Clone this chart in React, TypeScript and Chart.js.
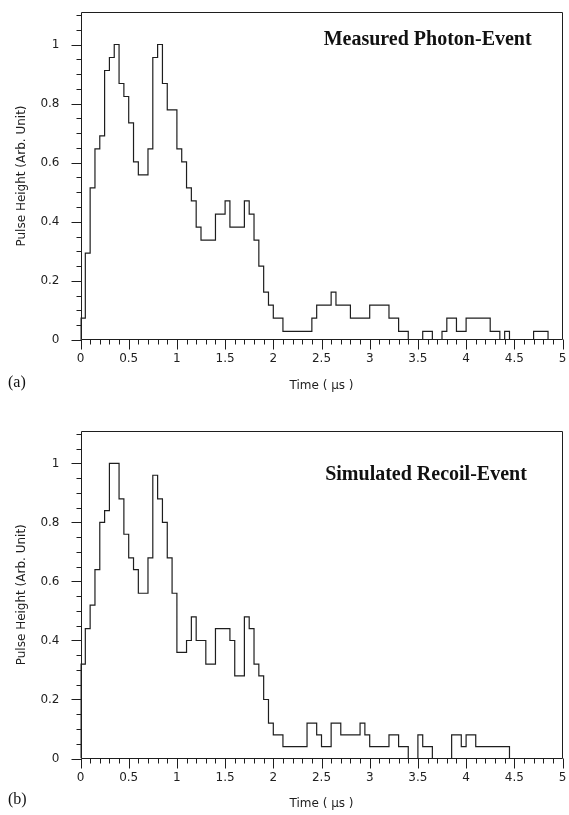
import React, { useEffect, useRef } from "react";
import { Chart, registerables } from "chart.js";

Chart.register(...registerables);

// ---- data ----
const BIN_WIDTH = 0.05; // µs per histogram bin
const TIME_MAX = 5;
const Y_MAX = 1.11;

const X_TICK_LABELS = ["0", "0.5", "1", "1.5", "2", "2.5", "3", "3.5", "4", "4.5", "5"];
const Y_TICK_LABELS = ["0", "0.2", "0.4", "0.6", "0.8", "1"];
const X_MAJOR = 0.5;
const X_MINOR = 0.1;
const Y_MAJOR = 0.2;
const Y_MINOR = 0.05;

const measuredPhoton = [
  0.074, 0.294, 0.515, 0.647, 0.691, 0.912, 0.956, 1.0, 0.868, 0.824,
  0.735, 0.603, 0.559, 0.559, 0.647, 0.956, 1.0, 0.868, 0.779, 0.779,
  0.647, 0.603, 0.515, 0.471, 0.382, 0.338, 0.338, 0.338, 0.426, 0.426,
  0.471, 0.382, 0.382, 0.382, 0.471, 0.426, 0.338, 0.25, 0.162, 0.118,
  0.074, 0.074, 0.029, 0.029, 0.029, 0.029, 0.029, 0.029, 0.074, 0.118,
  0.118, 0.118, 0.162, 0.118, 0.118, 0.118, 0.074, 0.074, 0.074, 0.074,
  0.118, 0.118, 0.118, 0.118, 0.074, 0.074, 0.029, 0.029, 0, 0,
  0, 0.029, 0.029, 0, 0, 0.029, 0.074, 0.074, 0.029, 0.029,
  0.074, 0.074, 0.074, 0.074, 0.074, 0.029, 0.029, 0, 0.029, 0,
  0, 0, 0, 0, 0.029, 0.029, 0.029, 0, 0, 0,
];

const simulatedRecoil = [
  0.32, 0.44, 0.52, 0.64, 0.8, 0.84, 1.0, 1.0, 0.88, 0.76,
  0.68, 0.64, 0.56, 0.56, 0.68, 0.96, 0.88, 0.8, 0.68, 0.56,
  0.36, 0.36, 0.4, 0.48, 0.4, 0.4, 0.32, 0.32, 0.44, 0.44,
  0.44, 0.4, 0.28, 0.28, 0.48, 0.44, 0.32, 0.28, 0.2, 0.12,
  0.08, 0.08, 0.04, 0.04, 0.04, 0.04, 0.04, 0.12, 0.12, 0.08,
  0.04, 0.04, 0.12, 0.12, 0.08, 0.08, 0.08, 0.08, 0.12, 0.08,
  0.04, 0.04, 0.04, 0.04, 0.08, 0.08, 0.04, 0.04, 0, 0,
  0.08, 0.04, 0.04, 0, 0, 0, 0, 0.08, 0.08, 0.04,
  0.08, 0.08, 0.04, 0.04, 0.04, 0.04, 0.04, 0.04, 0.04, 0,
  0, 0, 0, 0, 0, 0, 0, 0, 0, 0,
];

// ---- layout ----
const W = 569;
const PANELS = [
  {
    key: "a",
    title: "Measured Photon-Event",
    values: measuredPhoton,
    top: 0,
    height: 407,
    padTop: 12,
    axisH: 67,
    titlePadBottom: 14,
    titleX: 4.68,
    titleY: 1.0,
    tag: "(a)",
    tagY: 383,
  },
  {
    key: "b",
    title: "Simulated Recoil-Event",
    values: simulatedRecoil,
    top: 407,
    height: 408,
    padTop: 24,
    axisH: 56.5,
    titlePadBottom: 4,
    titleX: 4.63,
    titleY: 0.944,
    tag: "(b)",
    tagY: 393,
  },
];

const INK = "#1e1e1e";
const SANS = '"DejaVu Sans", sans-serif';
const SERIF = '"Liberation Serif", "Times New Roman", serif';

function toSteps(values: number[]) {
  const pts: { x: number; y: number }[] = [{ x: 0, y: 0 }];
  values.forEach((v, i) => {
    pts.push({ x: i * BIN_WIDTH, y: v });
  });
  pts.push({ x: values.length * BIN_WIDTH, y: values[values.length - 1] });
  return pts;
}

function labelFor(v: number, step: number, labels: string[]) {
  const idx = Math.round(v / step);
  if (Math.abs(v - idx * step) > 1e-6 || idx < 0 || idx >= labels.length) return "";
  return labels[idx];
}

const framePlugin = {
  id: "frame",
  afterDatasetsDraw(chart: any, _args: any, opts: any) {
    const { ctx, chartArea: ca, scales } = chart;
    const x = scales.x;
    const y = scales.y;
    ctx.save();
    ctx.strokeStyle = INK;
    ctx.lineWidth = 1;
    const l = Math.round(ca.left) + 0.5;
    const r = Math.round(ca.right) - 0.5;
    const t = Math.round(ca.top) + 0.5;
    const b = Math.round(ca.bottom) - 0.5;
    ctx.beginPath();
    ctx.rect(l, t, r - l, b - t);
    ctx.stroke();

    ctx.beginPath();
    const nY = Math.round(Y_MAX / Y_MINOR + 1e-6);
    for (let k = 0; k <= nY; k++) {
      const v = k * Y_MINOR;
      const py = Math.round(y.getPixelForValue(v)) + 0.5;
      const major = Math.abs(v / Y_MAJOR - Math.round(v / Y_MAJOR)) < 1e-6;
      const len = major ? 10 : 5;
      ctx.moveTo(l - len, py);
      ctx.lineTo(l, py);
    }
    const nX = Math.round(TIME_MAX / X_MINOR);
    for (let k = 0; k <= nX; k++) {
      const v = k * X_MINOR;
      const px = Math.round(x.getPixelForValue(v)) + 0.5;
      const major = Math.abs(v / X_MAJOR - Math.round(v / X_MAJOR)) < 1e-6;
      const len = major ? 10 : 5;
      ctx.moveTo(px, b);
      ctx.lineTo(px, b + len);
    }
    ctx.stroke();

    ctx.fillStyle = "#111";
    ctx.font = `bold 20px ${SERIF}`;
    ctx.textAlign = "right";
    ctx.textBaseline = "alphabetic";
    ctx.fillText(opts.title, x.getPixelForValue(opts.titleX), y.getPixelForValue(opts.titleY));

    ctx.font = `16px ${SERIF}`;
    ctx.textAlign = "left";
    ctx.textBaseline = "middle";
    ctx.fillText(opts.tag, 8, opts.tagY);
    ctx.restore();
  },
};

function Panel({ p }: { p: (typeof PANELS)[number] }) {
  const ref = useRef<HTMLCanvasElement | null>(null);
  useEffect(() => {
    if (!ref.current) return;
    const font = { family: SANS, size: 12, lineHeight: 1.2 };
    const chart = new Chart(ref.current, {
      type: "line",
      data: {
        datasets: [
          {
            data: toSteps(p.values),
            stepped: "before",
            borderColor: INK,
            borderWidth: 1.2,
            pointRadius: 0,
            fill: false,
          },
        ],
      },
      options: {
        animation: false,
        responsive: false,
        events: [],
        layout: { padding: { top: p.padTop, left: 8, right: 6.5, bottom: 0 } },
        plugins: {
          legend: { display: false },
          tooltip: { enabled: false },
          frame: {
            title: p.title,
            titleX: p.titleX,
            titleY: p.titleY,
            tag: p.tag,
            tagY: p.tagY,
          },
        } as any,
        scales: {
          x: {
            type: "linear",
            min: 0,
            max: TIME_MAX,
            border: { display: false },
            grid: { display: false },
            ticks: {
              stepSize: X_MAJOR,
              padding: 4,
              autoSkip: false,
              maxRotation: 0,
              color: INK,
              font,
              callback: (v: any) => labelFor(Number(v), X_MAJOR, X_TICK_LABELS),
            },
            title: {
              display: true,
              text: "Time ( μs )",
              color: INK,
              font,
              padding: { top: 0, bottom: p.titlePadBottom },
            },
            afterFit: (s: any) => {
              s.height = p.axisH;
              s.paddingLeft = 0;
              s.paddingRight = 0;
            },
          },
          y: {
            type: "linear",
            min: 0,
            max: Y_MAX,
            border: { display: false },
            grid: { display: false },
            ticks: {
              stepSize: Y_MAJOR,
              padding: 13,
              autoSkip: false,
              color: INK,
              font,
              callback: (v: any) => labelFor(Number(v), Y_MAJOR, Y_TICK_LABELS),
            },
            title: {
              display: true,
              text: "Pulse Height (Arb. Unit)",
              color: INK,
              font,
              padding: { top: 7, bottom: 0 },
            },
            afterFit: (s: any) => {
              s.width = 72.5;
              s.paddingTop = 0;
              s.paddingBottom = 0;
            },
          },
        },
      },
      plugins: [framePlugin],
    } as any);
    return () => chart.destroy();
  }, [p]);
  return (
    <canvas
      ref={ref}
      width={W}
      height={p.height}
      style={{ position: "absolute", left: 0, top: p.top, width: W, height: p.height }}
    />
  );
}

export default function App() {
  return (
    <div
      style={{
        position: "absolute",
        left: 0,
        top: 0,
        width: W,
        height: 815,
        background: "#fff",
        overflow: "hidden",
      }}
    >
      {PANELS.map((p) => (
        <Panel key={p.key} p={p} />
      ))}
    </div>
  );
}
